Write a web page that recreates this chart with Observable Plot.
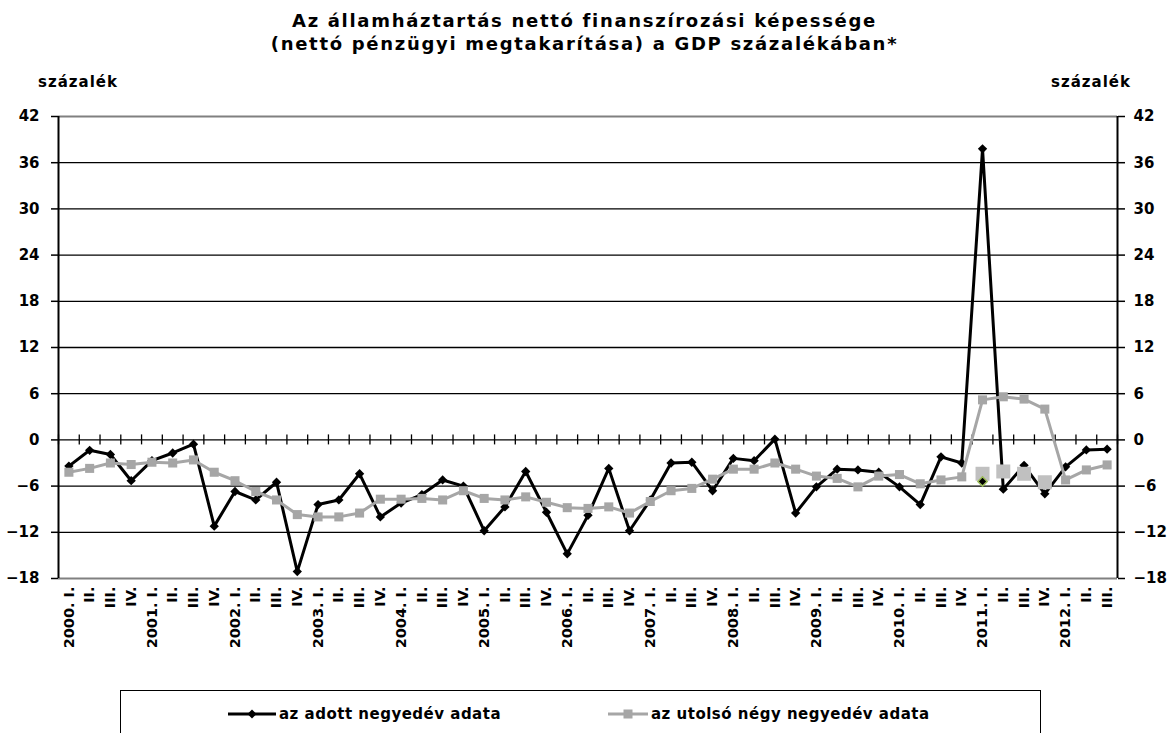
<!DOCTYPE html>
<html><head><meta charset="utf-8">
<script src="https://cdn.jsdelivr.net/npm/d3@7"></script>
<script src="https://cdn.jsdelivr.net/npm/@observablehq/plot@0.6"></script>
<style>
body{margin:0;width:1169px;height:733px;overflow:hidden;background:#fff;font-family:"DejaVu Sans",sans-serif;position:relative;color:#000}
#title{position:absolute;left:0;top:9px;width:1169px;text-align:center;font-weight:bold;font-size:18px;line-height:23px;letter-spacing:1.7px}
#chart{position:absolute;left:0;top:58px}
.unit{position:absolute;top:73px;font-weight:bold;font-size:15px;letter-spacing:1px}
#legend{position:absolute;left:120px;top:690px;width:919px;height:60px;border:1.5px solid #000;box-sizing:content-box}
.item{position:absolute;top:14px;display:flex;align-items:center;font-weight:bold;font-size:15px;letter-spacing:0.5px;white-space:nowrap}
.item svg{margin-right:3px}
</style>
</head><body>
<div id="title">Az államháztartás nettó finanszírozási képessége<br>(nettó pénzügyi megtakarítása) a GDP százalékában*</div>
<div id="chart"></div>
<div class="unit" id="u1" style="left:38px"></div>
<div class="unit" id="u2" style="right:38px"></div>
<div id="legend">
  <div class="item" style="left:107px"><svg width="48" height="12"><line x1="0" y1="6" x2="48" y2="6" stroke="#000" stroke-width="3"/><path d="M24 1.5 L28.5 6 L24 10.5 L19.5 6Z" fill="#000"/></svg><span id="l1"></span></div>
  <div class="item" style="left:487px"><svg width="40" height="12"><line x1="0" y1="6" x2="40" y2="6" stroke="#a6a6a6" stroke-width="3"/><rect x="15.5" y="1.5" width="9" height="9" fill="#a6a6a6"/></svg><span id="l2"></span></div>
</div>
<script>
const years = [2000,2001,2002,2003,2004,2005,2006,2007,2008,2009,2010,2011,2012];
const quarterNames = ["I.","II.","III.","IV."];
const categories = [];
years.forEach(y => quarterNames.forEach((q, k) => { if (!(y === 2012 && k === 3)) categories.push(k === 0 ? y + ". " + q : q); }));

const seriesNames = ["az adott negyedév adata", "az utolsó négy negyedév adata"];
const quarterly = [-3.4,-1.35,-1.9,-5.3,-2.7,-1.7,-0.55,-11.2,-6.7,-7.8,-5.5,-17.1,-8.4,-7.8,-4.4,-10.0,-8.2,-7.1,-5.2,-6.0,-11.8,-8.7,-4.1,-9.4,-14.8,-9.8,-3.7,-11.8,-7.8,-3.0,-2.9,-6.6,-2.4,-2.7,0.1,-9.5,-6.1,-3.8,-3.9,-4.2,-6.1,-8.4,-2.2,-3.0,37.8,-6.4,-3.3,-7.0,-3.5,-1.3,-1.2];
const fourQuarter = [-4.2,-3.7,-3.0,-3.2,-2.9,-3.0,-2.6,-4.2,-5.3,-6.7,-7.8,-9.7,-10.0,-10.0,-9.5,-7.7,-7.7,-7.6,-7.8,-6.6,-7.6,-7.8,-7.4,-8.1,-8.8,-8.9,-8.7,-9.5,-8.0,-6.6,-6.3,-5.1,-3.8,-3.8,-3.0,-3.8,-4.7,-5.0,-6.1,-4.7,-4.5,-5.7,-5.2,-4.8,5.2,5.6,5.3,4.0,-5.2,-3.9,-3.25];
const altIdx = [44,45,46,47];
const altFourQuarter = [-4.4,-4.1,-4.4,-5.5];
const altQuarterIdx = [44];
const altQuarter = [-5.4];
const yTicks = [-18,-12,-6,0,6,12,18,24,30,36,42];
const unitLabel = "százalék";

document.getElementById("l1").textContent = seriesNames[0];
document.getElementById("l2").textContent = seriesNames[1];
document.getElementById("u1").textContent = unitLabel;
document.getElementById("u2").textContent = unitLabel;

const n = categories.length;
const idx = d3.range(n);
const data = idx.map(i => ({i, a: quarterly[i], b: fourQuarter[i]}));
const alt = altIdx.map((i, k) => ({i, v: altFourQuarter[k]}));
const alt2 = altQuarterIdx.map((i, k) => ({i, v: altQuarter[k]}));
const yMin = yTicks[0], yMax = yTicks[yTicks.length - 1];
const inner = yTicks.filter(v => v !== yMin && v !== yMax);
const bounds = d3.range(n + 1).map(k => k - 0.5);

const chart = Plot.plot({
  width: 1169, height: 630,
  marginTop: 58, marginBottom: 110, marginLeft: 58, marginRight: 52,
  x: {domain: [-0.5, n - 0.5], axis: null},
  y: {domain: [yMin, yMax], axis: null},
  style: {fontFamily: "DejaVu Sans", fontWeight: "bold", fontSize: "14px", color: "#000", background: "#fff", overflow: "visible"},
  marks: [
    Plot.ruleY(inner, {stroke: "#000", strokeWidth: 1.3}),
    Plot.ruleY([yMin, yMax], {stroke: "#808080", strokeWidth: 2}),
    Plot.ruleX(bounds, {y1: -0.65, y2: 0.65, stroke: "#000", strokeWidth: 1.3}),
    Plot.ruleX([-0.5, n - 0.5], {y1: yMin, y2: yMax, stroke: "#000", strokeWidth: 2}),
    Plot.axisY({anchor: "left", ticks: yTicks, tickSize: 7, tickPadding: 12, fontSize: 15, fontWeight: "bold", strokeWidth: 1.5, label: null}),
    Plot.axisY({anchor: "right", ticks: yTicks, tickSize: 7, tickPadding: 9, fontSize: 15, fontWeight: "bold", strokeWidth: 1.5, label: null}),
    Plot.axisX({ticks: idx, tickFormat: i => categories[i], tickRotate: -90, tickSize: 0, tickPadding: 8, fontSize: 14.5, fontWeight: "bold", label: null}),
    Plot.line(data, {x: "i", y: "a", stroke: "#000", strokeWidth: 3}),
    Plot.dot(data, {x: "i", y: "a", symbol: "diamond2", r: 4.2, fill: "#000"}),
    Plot.line(data, {x: "i", y: "b", stroke: "#a6a6a6", strokeWidth: 3}),
    Plot.dot(data, {x: "i", y: "b", symbol: "square", r: 5.1, fill: "#a6a6a6"}),
    Plot.dot(alt, {x: "i", y: "v", symbol: "square", r: 7.9, fill: "#c0c0c0"}),
    Plot.dot(alt2, {x: "i", y: "v", symbol: "diamond2", r: 4.2, fill: "#000", stroke: "#9bbb59", strokeWidth: 1.5})
  ]
});
document.getElementById("chart").appendChild(chart);
</script>
</body></html>
